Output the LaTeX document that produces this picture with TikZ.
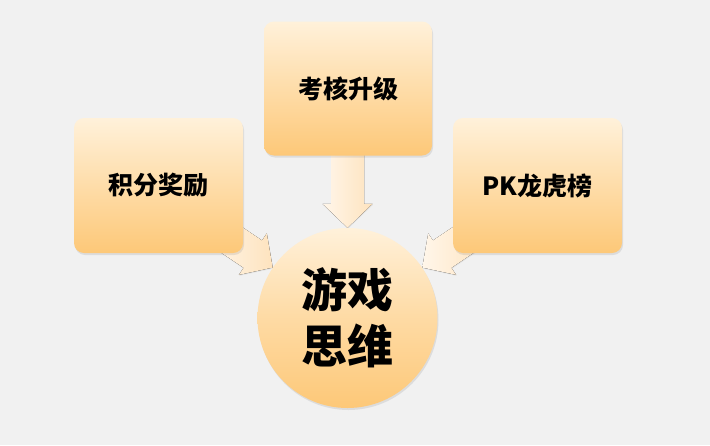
\documentclass[tikz,border=0pt]{standalone}
\usepackage{fontspec}
\newfontfamily\cjk{Noto Sans CJK SC}
\usetikzlibrary{shadows,calc}
\pgfdeclarelayer{background}
\pgfdeclarelayer{behind}
\pgfsetlayers{behind,background,main}
\definecolor{bgc}{HTML}{F1F1F1}
\definecolor{boxtop}{HTML}{FFF1DA}
\definecolor{boxbot}{HTML}{FDC878}
\definecolor{arrtail}{HTML}{FFF6EA}
\definecolor{arrhead}{HTML}{FEE3BE}
\tikzset{
  pbox/.style={rounded corners=10pt, minimum width=168pt, minimum height=134pt,
    top color=boxtop, bottom color=boxbot, draw=none,
    drop shadow={opacity=0.18, shadow xshift=1pt, shadow yshift=-2pt},
    font=\cjk\bfseries\fontsize{25}{28}\selectfont, text=black, inner sep=0pt},
  pcirc/.style={circle, minimum size=180pt, inner sep=0pt,
    top color=boxtop, bottom color=boxbot, middle color=boxbot!55!boxtop, draw=none,
    drop shadow={opacity=0.18, shadow xshift=1pt, shadow yshift=-2pt},
    font=\cjk\bfseries\fontsize{46}{56}\selectfont, text=black, align=center},
  barrow/.style={left color=arrtail, right color=arrhead, draw=none,
    drop shadow={opacity=0.12, shadow xshift=0.5pt, shadow yshift=-1pt}}
}
\begin{document}
\begin{tikzpicture}[x=1pt,y=1pt]
\begin{pgfonlayer}{behind}
\fill[bgc] (0,0) rectangle (710,-445);
\end{pgfonlayer}
\useasboundingbox (0,0) rectangle (710,-445);
\node[pbox] (top) at (348,-88.5) {考核升级};
\node[pbox, minimum width=169pt, minimum height=135pt] (left) at (158.5,-185.5) {积分奖励};
\node[pbox, minimum width=169pt, minimum height=135pt] (right) at (537.5,-185.5) {PK龙虎榜};
\node[pcirc] (game) at (347.5,-318) {游戏\\思维};
\begin{pgfonlayer}{background}
  % down arrow: from top box to circle
  \begin{scope}[shift={(game.90)}, rotate=-90]
    \fill[barrow] (0,0) -- (-24,25) -- (-24,16.5) -- (-74,16.5) -- (-74,-16.5) -- (-24,-16.5) -- (-24,-25) -- cycle;
  \end{scope}
  % left arrow
  \begin{scope}[shift={(game.146)}, rotate=-34]
    \fill[barrow] (0,0) -- (-24,25) -- (-24,16.5) -- (-70,16.5) -- (-70,-16.5) -- (-24,-16.5) -- (-24,-25) -- cycle;
  \end{scope}
  % right arrow
  \begin{scope}[shift={(game.34)}, rotate=-146]
    \fill[barrow] (0,0) -- (-24,-25) -- (-24,-16.5) -- (-70,-16.5) -- (-70,16.5) -- (-24,16.5) -- (-24,25) -- cycle;
  \end{scope}
\end{pgfonlayer}
\end{tikzpicture}
\end{document}
